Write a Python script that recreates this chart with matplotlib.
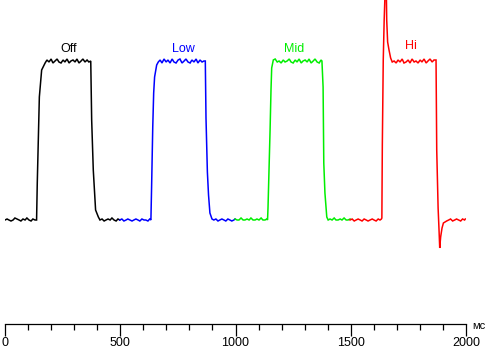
import matplotlib
matplotlib.use("Agg")
import matplotlib.pyplot as plt
from matplotlib.ticker import MultipleLocator

# ---- data (time in ms, signal in arbitrary units; baseline 0) ----
labels = ["Off", "Low", "Mid", "Hi"]
colors = ["#000000", "#0000ff", "#00ee00", "#ff0000"]

off_t = [0, 9, 17, 26, 35, 43, 52, 61, 69, 78, 87, 95, 104, 113, 121, 130,
         137, 140, 149, 159, 174,
         182, 191, 200, 208, 217, 226, 234, 243, 252, 260, 269, 278, 286, 295, 304, 312,
         321, 330, 338, 347, 356, 364,
         372, 376, 383, 393, 405, 412,
         421, 430, 438, 447, 456, 464, 473, 482, 490, 498]
off_v = [0, 1, 0, -1, 0, 2, 1, 0, -1, 1, 0, 2, 0, -1, 1, 0,
         0, 37, 123, 150, 157,
         160, 158, 161, 157, 159, 161, 158, 157, 160, 158, 161, 157, 159, 160, 158, 161,
         157, 159, 161, 158, 160, 158,
         159, 100, 50, 10, 3, 0,
         1, -1, 0, 1, 0, 2, 0, -1, 1, 0]

low_t = [498, 507, 516, 525, 533, 542, 551, 559, 568, 577, 585, 594, 603, 611, 620, 628,
         633, 636, 641, 645, 649, 658, 665,
         673, 681, 690, 699, 707, 716, 725, 733, 742, 751, 759, 768, 777, 785, 794, 803,
         811, 820, 829, 837, 846, 855, 863,
         869, 872, 878, 883, 889, 898, 906,
         915, 924, 932, 941, 950, 958, 967, 976, 984, 993, 998]
low_v = [0, 1, -1, 0, 1, 0, -1, 0, 1, 0, -1, 1, 0, 0, -1, 1,
         0, 33, 93, 127, 143, 155, 158,
         160, 157, 161, 158, 160, 157, 161, 158, 157, 160, 161, 157, 159, 161, 158, 157,
         160, 158, 161, 157, 160, 158, 159,
         159, 102, 48, 25, 7, 1, 0,
         1, -1, 0, 1, 0, -1, 1, 0, -1, 0, 1]

mid_t = [998, 1007, 1015, 1024, 1033, 1041, 1050, 1059, 1067, 1076, 1085, 1093, 1102,
         1111, 1119, 1128, 1136,
         1139, 1141, 1150, 1154, 1157, 1164,
         1172, 1181, 1189, 1198, 1207, 1215, 1224, 1233, 1241, 1250, 1259, 1267, 1276,
         1285, 1293, 1302, 1311, 1319, 1328, 1337, 1345, 1354, 1363, 1371,
         1375, 1380, 1383, 1388, 1396, 1402,
         1410, 1419, 1428, 1436, 1445, 1454, 1462, 1471, 1480, 1488, 1497]
mid_v = [1, 0, 0, 2, 0, 0, 1, 0, 2, 0, 0, 1, 0, 2, 0, 0, 1,
         0, 12, 90, 130, 152, 160,
         161, 158, 159, 157, 160, 158, 159, 161, 158, 157, 160, 158, 161,
         157, 159, 160, 158, 161, 157, 159, 161, 158, 157, 160,
         159, 133, 57, 27, 3, 0,
         1, 0, 2, 0, 0, 1, 0, 2, 0, 0, 1]

hi_t = [1497, 1506, 1515, 1523, 1532, 1541, 1549, 1558, 1567, 1575, 1584, 1593, 1601,
        1610, 1619, 1627, 1633,
        1635, 1637, 1641, 1645, 1650, 1654, 1656, 1660, 1666, 1673, 1680,
        1688, 1697, 1705, 1714, 1723, 1731, 1740, 1749, 1757, 1766, 1775, 1783, 1792,
        1801, 1809, 1818, 1827, 1835, 1844, 1853, 1861,
        1870, 1873, 1879, 1883, 1886, 1890, 1896, 1902, 1909, 1916,
        1925, 1933, 1942, 1951, 1959, 1968, 1977, 1985, 1994, 1997]
hi_v = [0, 1, -1, 0, 1, 0, -1, 1, 0, -1, 0, 1, 0, -1, 1, 0, 1,
        2, 75, 160, 200, 235, 235, 200, 178, 170, 162, 158,
        159, 157, 160, 158, 161, 157, 158, 160, 157, 161, 158, 159, 157,
        160, 158, 161, 157, 159, 161, 158, 160,
        160, 70, 12, -10, -28, -17, -8, -3, -2, -1,
        0, 1, -1, 0, 1, 0, -1, 1, 0, 1]

series_t = [off_t, low_t, mid_t, hi_t]
series_v = [off_v, low_v, mid_v, hi_v]
label_pos = [(275, 165), (772, 165), (1255, 165), (1760, 168)]

x_major = [0, 500, 1000, 1500, 2000]

# ---- figure ----
W, H = 488, 350
fig = plt.figure(figsize=(W / 100, H / 100), dpi=100)
ax = fig.add_axes([5 / W, (H - 324) / H, (466 - 5) / W, 324 / H])

for t, v, c in zip(series_t, series_v, colors):
    ax.plot(t, v, color=c, lw=1.1, solid_joinstyle="miter")

for (lx, ly), lab, c in zip(label_pos, labels, colors):
    ax.text(lx, ly, lab, color=c, fontsize=9, family="Liberation Sans",
            ha="center", va="bottom")

ax.set_xlim(0, 2000)
ax.set_ylim(-104, 220)
for s in ["top", "left", "right"]:
    ax.spines[s].set_visible(False)
ax.spines["bottom"].set_linewidth(0.9)
ax.set_yticks([])
ax.set_xticks(x_major)
ax.set_xticklabels([str(x) for x in x_major], family="Liberation Sans", fontsize=9)
ax.xaxis.set_minor_locator(MultipleLocator(100))
ax.tick_params(axis="x", which="major", direction="out", length=8.5, width=0.9, pad=0.8)
ax.tick_params(axis="x", which="minor", direction="out", length=4.5, width=0.9)
ax.patch.set_alpha(0)

fig.text(472 / W, 1 - 326 / H, "мс", fontsize=8, family="Liberation Sans",
         ha="left", va="center")

fig.savefig("out.png", dpi=100)
